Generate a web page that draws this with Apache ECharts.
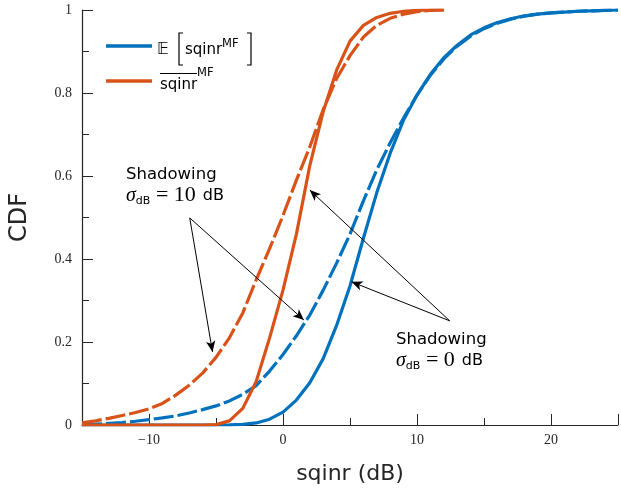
<!DOCTYPE html>
<html>
<head>
<meta charset="utf-8">
<script src="https://cdn.jsdelivr.net/npm/echarts@6/dist/echarts.min.js"></script>
<style>
  html, body { margin: 0; padding: 0; background: #fff; }
  #chart { width: 621px; height: 495px; }
</style>
</head>
<body>
<div id="chart"></div>
<script>
// E[sqinr], shadowing 0 dB (blue solid)
var xBlueSolid = [-15,-5,-4,-3,-2,-1,0,1,2,3,4,5,6,7,8,9,10,11,12,13,14,15,16,17,18,19,20,21,22,23,24,25];
var yBlueSolid = [0,0,0.0005,0.0015,0.005,0.014,0.031,0.06,0.102,0.16,0.24,0.335,0.45,0.56,0.655,0.735,0.795,0.845,0.885,0.915,0.94,0.957,0.97,0.979,0.986,0.99,0.993,0.995,0.997,0.998,0.999,1];
// E[sqinr], shadowing 10 dB (blue dashed)
var xBlueDash = [-15,-14,-13,-12,-11,-10,-9,-8,-7,-6,-5,-4,-3,-2,-1,0,1,2,3,4,5,6,7,8,9,10,11,12,13,14,15,16,17,18,19,20,22,25];
var yBlueDash = [0.001,0.002,0.004,0.006,0.009,0.013,0.017,0.022,0.029,0.037,0.046,0.058,0.074,0.095,0.13,0.17,0.215,0.265,0.325,0.39,0.46,0.54,0.615,0.68,0.74,0.795,0.843,0.882,0.913,0.937,0.955,0.968,0.978,0.985,0.99,0.993,0.997,1];
// mean sqinr, shadowing 0 dB (orange solid)
var xOrangeSolid = [-15,-6,-5,-4,-3,-2,-1,0,1,2,3,4,5,6,7,8,9,10,11,12];
var yOrangeSolid = [0,0,0.001,0.01,0.04,0.105,0.21,0.325,0.46,0.625,0.755,0.855,0.925,0.963,0.982,0.992,0.997,0.999,1,1];
// mean sqinr, shadowing 10 dB (orange dashed)
var xOrangeDash = [-15,-14,-13,-12,-11,-10,-9,-8,-7,-6,-5,-4,-3,-2,-1,0,1,2,3,4,5,6,7,8,9,10,11,12];
var yOrangeDash = [0.005,0.01,0.016,0.023,0.03,0.039,0.052,0.072,0.096,0.125,0.163,0.21,0.27,0.35,0.425,0.505,0.59,0.67,0.76,0.835,0.89,0.935,0.963,0.98,0.99,0.996,0.999,1];

// annotation arrows: [fromX, fromY, toX, toY] in data units
var arrows10dB = [[-6.96, 0.499, -5.26, 0.176], [-6.96, 0.499, 1.56, 0.253]];
var arrows0dB = [[12.44, 0.251, 5.11, 0.345], [12.44, 0.251, 2.0, 0.566]];

var BLUE = '#0072BD';
var ORANGE = '#D95319';
var AXIS = '#262626';

function pairs(xs, ys) {
  var out = [];
  for (var i = 0; i < xs.length; i++) out.push([xs[i], ys[i]]);
  return out;
}
function arrowData(list) {
  return list.map(function (a) {
    return [{ coord: [a[0], a[1]] }, { coord: [a[2], a[3]] }];
  });
}

var chart = echarts.init(document.getElementById('chart'));

var tickFont = { fontFamily: 'Liberation Serif', fontSize: 14 };

// rich styles for the "sigma_dB = N dB" lines
var annRich = {
  a: { fontFamily: 'DejaVu Sans', fontSize: 16.5, lineHeight: 20 },
  s: { fontFamily: 'Liberation Serif', fontStyle: 'italic', fontSize: 20, lineHeight: 22 },
  sub: { fontFamily: 'DejaVu Sans', fontSize: 11, lineHeight: 19, verticalAlign: 'bottom' },
  m: { fontFamily: 'Liberation Serif', fontSize: 22, lineHeight: 22, padding: [0, 7, 0, 0] },
  u: { fontFamily: 'DejaVu Sans', fontSize: 16, lineHeight: 22 }
};

var option = {
  animation: false,
  grid: { left: 82, right: 0, top: 10, bottom: 70 },
  xAxis: [
    {
      type: 'value',
      min: -15,
      max: 25,
      position: 'bottom',
      name: 'sqinr (dB)',
      nameLocation: 'middle',
      nameGap: 38,
      nameTextStyle: { fontFamily: 'DejaVu Sans', fontSize: 22, color: AXIS },
      axisLine: { show: true, onZero: false, lineStyle: { color: AXIS, width: 1.2 } },
      axisTick: { show: true, inside: true, length: 11, lineStyle: { color: AXIS } },
      axisLabel: {
        margin: 8,
        fontFamily: tickFont.fontFamily, fontSize: tickFont.fontSize, color: AXIS,
        formatter: function (v) {
          if (v % 10 !== 0) return '';
          return v < 0 ? '\u2212' + (-v) : String(v);
        }
      },
      splitLine: { show: false }
    },
    {
      // minor ticks at -5, 5, 15
      type: 'value',
      min: -15,
      max: 25,
      interval: 10,
      position: 'bottom',
      axisLine: { show: false, onZero: false },
      axisTick: { show: true, inside: true, length: 7, lineStyle: { color: AXIS } },
      axisLabel: { show: false },
      splitLine: { show: false }
    }
  ],
  yAxis: {
    type: 'value',
    min: 0,
    max: 1,
    interval: 0.2,
    name: 'CDF',
    nameLocation: 'middle',
    nameGap: 50,
    nameTextStyle: { fontFamily: 'DejaVu Sans', fontSize: 24, color: AXIS },
    axisLine: { show: true, onZero: false, lineStyle: { color: AXIS, width: 1.2 } },
    axisTick: { show: true, inside: true, length: 11, lineStyle: { color: AXIS } },
    minorTick: { show: true, splitNumber: 2, length: 7, lineStyle: { color: AXIS } },
    axisLabel: { margin: 10, fontFamily: tickFont.fontFamily, fontSize: tickFont.fontSize, color: AXIS },
    splitLine: { show: false },
    minorSplitLine: { show: false }
  },
  series: [
    {
      type: 'line', name: 'E sqinr 10dB', xAxisIndex: 0,
      data: pairs(xBlueDash, yBlueDash),
      showSymbol: false, symbol: 'none',
      lineStyle: { color: BLUE, width: 3.2, type: [20, 4] }
    },
    {
      type: 'line', name: 'E sqinr 0dB', xAxisIndex: 0,
      data: pairs(xBlueSolid, yBlueSolid),
      showSymbol: false, symbol: 'none',
      lineStyle: { color: BLUE, width: 3.2 }
    },
    {
      type: 'line', name: 'mean sqinr 10dB', xAxisIndex: 0,
      data: pairs(xOrangeDash, yOrangeDash),
      showSymbol: false, symbol: 'none',
      lineStyle: { color: ORANGE, width: 3.2, type: [20, 4] }
    },
    {
      type: 'line', name: 'mean sqinr 0dB', xAxisIndex: 0,
      data: pairs(xOrangeSolid, yOrangeSolid),
      showSymbol: false, symbol: 'none',
      lineStyle: { color: ORANGE, width: 3.2 },
      markLine: {
        silent: true,
        symbol: ['none', 'arrow'],
        symbolSize: [7, 11],
        label: { show: false },
        lineStyle: { color: '#000', width: 1, type: 'solid' },
        emphasis: { disabled: true },
        data: arrowData(arrows10dB).concat(arrowData(arrows0dB))
      }
    }
  ],
  graphic: [
    // legend
    { type: 'line', shape: { x1: 106, y1: 46, x2: 152, y2: 46 }, style: { stroke: BLUE, lineWidth: 3.5 } },
    { type: 'line', shape: { x1: 106, y1: 81, x2: 152, y2: 81 }, style: { stroke: ORANGE, lineWidth: 3.5 } },
    { type: 'text', x: 157, y: 42, style: { text: '\uD835\uDD3C', font: '16px DejaVu Sans', fill: '#000' } },
    { type: 'polyline', shape: { points: [[183, 33], [179, 33], [179, 65], [183, 65]] }, style: { stroke: '#000', lineWidth: 1.2, fill: null } },
    { type: 'text', x: 185, y: 43, style: { text: 'sqinr', font: '15px DejaVu Sans', fill: '#000' } },
    { type: 'text', x: 222, y: 38, style: { text: 'MF', font: '11.5px DejaVu Sans', fill: '#000' } },
    { type: 'polyline', shape: { points: [[247, 33], [251, 33], [251, 65], [247, 65]] }, style: { stroke: '#000', lineWidth: 1.2, fill: null } },
    { type: 'text', x: 160, y: 78, style: { text: 'sqinr', font: '15px DejaVu Sans', fill: '#000' } },
    { type: 'line', shape: { x1: 160, y1: 73.5, x2: 197, y2: 73.5 }, style: { stroke: '#000', lineWidth: 1 } },
    { type: 'text', x: 197, y: 67, style: { text: 'MF', font: '11.5px DejaVu Sans', fill: '#000' } },
    // annotations
    {
      type: 'text', left: 126, top: 166,
      style: { text: '{a|Shadowing}\n{s|\u03C3}{sub|dB}{m| = 10}{u|dB}', fill: '#000', rich: annRich }
    },
    {
      type: 'text', left: 396, top: 331,
      style: { text: '{a|Shadowing}\n{s|\u03C3}{sub|dB}{m| = 0}{u|dB}', fill: '#000', rich: annRich }
    }
  ]
};

chart.setOption(option);
</script>
</body>
</html>
